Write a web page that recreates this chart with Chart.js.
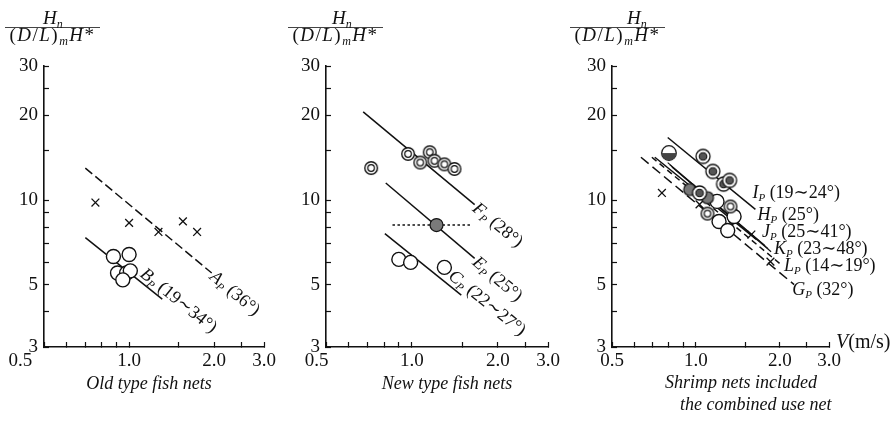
<!DOCTYPE html>
<html>
<head>
<meta charset="utf-8">
<script src="https://cdn.jsdelivr.net/npm/chart.js@4"></script>
<style>
  body { margin: 0; background: #fff; }
  #wrap { position: relative; width: 895px; height: 433px; overflow: hidden; background: #fff;
          font-family: "Liberation Serif", "DejaVu Serif", serif; color: #111; }
  canvas { position: absolute; top: 0; }
  .frac { position: absolute; top: 8px; font-size: 19px; white-space: nowrap; }
  .num { font-style: italic; line-height: 19px; height: 19px; border-bottom: 1px solid #444; }
  .den { line-height: 19px; margin-top: -3px; letter-spacing: 1.5px; text-align: center; }
  .frac sub { font-size: 12px; vertical-align: -4px; line-height: 0; font-style: italic; }
  .cap { position: absolute; font-style: italic; font-size: 18px; line-height: 18px; white-space: nowrap; }
</style>
</head>
<body>
<div id="wrap">
  <canvas id="c1" width="300" height="433" style="left:0px"></canvas>
  <canvas id="c2" width="300" height="433" style="left:282px"></canvas>
  <canvas id="c3" width="327" height="433" style="left:568px"></canvas>

  <div class="frac" style="left:5px;width:95px"><div class="num" style="padding-left:38px">H<sub>n</sub></div><div class="den">(<i>D</i>/<i>L</i>)<sub>m</sub><i>H</i>*</div></div>
  <div class="frac" style="left:288px;width:95px"><div class="num" style="padding-left:44px">H<sub>n</sub></div><div class="den">(<i>D</i>/<i>L</i>)<sub>m</sub><i>H</i>*</div></div>
  <div class="frac" style="left:570px;width:95px"><div class="num" style="padding-left:57px">H<sub>n</sub></div><div class="den">(<i>D</i>/<i>L</i>)<sub>m</sub><i>H</i>*</div></div>

  <div class="cap" style="left:49px;top:374px;width:200px;text-align:center">Old type fish nets</div>
  <div class="cap" style="left:347px;top:374px;width:200px;text-align:center">New type fish nets</div>
  <div class="cap" style="left:665px;top:373px">Shrimp nets included</div>
  <div class="cap" style="left:680px;top:395px">the combined use net</div>
</div>
<script>
// axes: V (m/s) on x, Hn/((D/L)m H*) on y, both log
const xTicks = [0.5, 0.6, 0.7, 0.8, 0.9, 1.0, 1.5, 2.0, 2.5, 3.0];
const xLabels = {1: '1.0', 2: '2.0', 3: '3.0'};
const yTicks = [3, 4, 5, 6, 7, 8, 9, 10, 15, 20, 25, 30];
const yLabels = {3: '3', 5: '5', 10: '10', 20: '20', 30: '30'};

// old type fish nets
const oldCrossV = [0.76, 1.0, 1.27, 1.55, 1.74];
const oldCrossH = [9.8, 8.3, 7.7, 8.4, 7.7];
const oldCircV = [0.88, 1.0, 0.91, 0.98, 1.01, 0.95];
const oldCircH = [6.3, 6.4, 5.5, 5.5, 5.6, 5.2];
const lineAV = [0.70, 1.96], lineAH = [13.0, 5.5];
const lineBV = [0.70, 1.31], lineBH = [7.35, 4.44];

// new type fish nets
const newDblV = [0.72, 0.97, 1.07, 1.155, 1.20, 1.30, 1.41];
const newDblH = [13.0, 14.6, 13.6, 14.8, 13.8, 13.4, 12.9];
const newFillV = [1.22], newFillH = [8.15];
const newBarV = [0.855, 1.62], newBarH = [8.15, 8.15];
const newCircV = [0.90, 0.99, 1.30];
const newCircH = [6.15, 6.0, 5.76];
const lineFV = [0.675, 1.66], lineFH = [20.6, 9.63];
const lineEV = [0.81, 1.66], lineEH = [11.5, 6.2];
const lineCV = [0.804, 1.49], lineCH = [7.6, 4.59];

// shrimp nets
const shHalfV = [0.80], shHalfH = [14.7];
const shDotV = [1.06, 1.15, 1.256, 1.32, 1.03];
const shDotH = [14.3, 12.65, 11.4, 11.75, 10.6];
const shGrayV = [0.95, 1.10], shGrayH = [10.9, 10.2];
const shDblV = [1.33, 1.10], shDblH = [9.49, 8.95];
const shOpenV = [1.19, 1.37, 1.21, 1.30];
const shOpenH = [9.89, 8.74, 8.39, 7.79];
const shCrossV = [0.755, 1.03, 1.58, 1.85];
const shCrossH = [10.6, 9.65, 7.54, 6.04];
const lineIV = [0.792, 1.634], lineIH = [16.7, 9.26];
const lineHV = [0.712, 1.65], lineHH = [14.2, 7.23];
const lineJV = [0.792, 1.77], lineJH = [13.6, 6.88];
const lineJKV = [0.806, 1.815], lineJKH = [13.35, 6.72];
const lineKV = [0.82, 1.86], lineKH = [13.1, 6.55];
const lineLV = [0.695, 2.02], lineLH = [14.2, 5.89];
const lineGV = [0.635, 2.25], lineGH = [14.2, 5.0];

const FONT = '"Liberation Serif", "DejaVu Serif", serif';
const INK = '#111';

// small marker pictures
function symbol(size, draw) {
  const c = document.createElement('canvas');
  c.width = c.height = size;
  const g = c.getContext('2d');
  g.translate(size / 2, size / 2);
  g.strokeStyle = INK;
  draw(g);
  return c;
}
function ring(g, r, fill) {
  g.beginPath(); g.arc(0, 0, r, 0, Math.PI * 2);
  if (fill) { g.fillStyle = fill; g.fill(); }
  g.stroke();
}
const dblCircle = symbol(16, g => { g.lineWidth = 1.4; ring(g, 6.3, '#fff'); g.lineWidth = 1.2; ring(g, 3.3); });
const dotCircle = symbol(18, g => { g.lineWidth = 1.3; ring(g, 7, '#fff'); g.lineWidth = 1.1; ring(g, 3.8, '#555'); });
const halfCircle = symbol(18, g => {
  g.lineWidth = 1.3; ring(g, 7.3, '#fff');
  g.beginPath(); g.arc(0, 0, 7.3, 0, Math.PI); g.closePath(); g.fillStyle = '#444'; g.fill();
});
const grayBlob = symbol(16, g => { g.lineWidth = 1.2; ring(g, 6, '#777'); });

const pts = (vs, hs) => vs.map((v, i) => ({x: v, y: hs[i]}));
const openStyle = {pointStyle: 'circle', pointRadius: 7, pointBackgroundColor: '#fff', pointBorderColor: INK, pointBorderWidth: 1.4};
const crossStyle = {pointStyle: 'crossRot', pointRadius: 5.5, pointBorderColor: INK, pointBorderWidth: 1.3};
const picStyle = pic => ({pointStyle: pic, pointRadius: 7});

function marks(label, vs, hs, style) {
  return Object.assign({label, data: pts(vs, hs), showLine: false}, style);
}
function line(label, vs, hs, dash, width) {
  return {label, data: pts(vs, hs), showLine: true, borderColor: INK, borderWidth: width || 1.5,
          borderDash: dash || [], pointRadius: 0, fill: false};
}

function richText(ctx, parts, x, y, size) {
  size = size || 18;
  for (const [txt, kind] of parts) {
    if (kind === 'sub') {
      ctx.font = 'italic 11px ' + FONT;
      ctx.fillText(txt, x, y + 3);
    } else {
      ctx.font = (kind === 'it' ? 'italic ' : '') + size + 'px ' + FONT;
      ctx.fillText(txt, x, y);
    }
    x += ctx.measureText(txt).width;
  }
}
const lab = (main, rest) => [[main, 'it'], ['P', 'sub'], [' ' + rest, 'rm']];

// labels next to the fitted lines, placed from the lines' own end points
const lineLabels = {
  id: 'lineLabels',
  afterDatasetsDraw(chart, args, opts) {
    const ctx = chart.ctx, xs = chart.scales.x, ys = chart.scales.y;
    ctx.save();
    ctx.fillStyle = INK;
    ctx.textBaseline = 'alphabetic';
    for (const lb of opts.items || []) {
      const d = chart.data.datasets.find(ds => ds.label === lb.line).data;
      const a = {x: xs.getPixelForValue(d[0].x), y: ys.getPixelForValue(d[0].y)};
      const b = {x: xs.getPixelForValue(d[d.length - 1].x), y: ys.getPixelForValue(d[d.length - 1].y)};
      ctx.save();
      if (lb.rot) {
        ctx.translate(a.x + (b.x - a.x) * lb.t, a.y + (b.y - a.y) * lb.t);
        ctx.rotate(Math.atan2(b.y - a.y, b.x - a.x));
        richText(ctx, lb.text, lb.gap || 0, (lb.off || 0) + 6);
      } else {
        richText(ctx, lb.text, b.x + lb.dx, b.y + lb.dy);
      }
      ctx.restore();
    }
    if (opts.unit) {
      const area = chart.chartArea;
      richText(ctx, [['V', 'it'], ['(m/s)', 'rm']], area.right + 7, area.bottom + 1, 20);
    }
    ctx.restore();
  }
};

function axes(zeroLabel) {
  const tickFont = {family: FONT, size: 19};
  return {
    x: {
      type: 'logarithmic', min: 0.5, max: 3.0,
      afterBuildTicks: s => { s.ticks = xTicks.map(v => ({value: v})); },
      afterFit: s => { s.height = 30; },
      ticks: {callback: v => v === 0.5 ? zeroLabel : (xLabels[v] || ''), autoSkip: false, maxRotation: 0,
              padding: 8, color: INK, font: tickFont},
      grid: {drawOnChartArea: false, tickLength: -5, tickWidth: 1.2, color: INK},
      border: {color: INK, width: 1.6}
    },
    y: {
      type: 'logarithmic', min: 3, max: 30,
      afterBuildTicks: s => { s.ticks = yTicks.map(v => ({value: v})); },
      afterFit: s => { s.width = 40; },
      ticks: {callback: v => yLabels[v] || '', autoSkip: false, padding: 11, color: INK, font: tickFont},
      grid: {drawOnChartArea: false, tickLength: -5, tickWidth: 1.2, color: INK},
      border: {color: INK, width: 1.6}
    }
  };
}

function panel(id, datasets, labels, padRight, zeroLabel, unit) {
  return new Chart(document.getElementById(id), {
    type: 'scatter',
    data: {datasets},
    options: {
      responsive: false, animation: false, devicePixelRatio: 1, events: [],
      layout: {padding: {left: 4, right: padRight, top: 66, bottom: 56}},
      scales: axes(zeroLabel),
      plugins: {legend: {display: false}, tooltip: {enabled: false},
                lineLabels: {items: labels, unit}}
    },
    plugins: [lineLabels]
  });
}

panel('c1', [
  marks('cross', oldCrossV, oldCrossH, crossStyle),
  marks('circle', oldCircV, oldCircH, openStyle),
  line('A', lineAV, lineAH, [9, 4]),
  line('B', lineBV, lineBH)
], [
  {line: 'A', rot: true, t: 1, gap: 1, off: 0, text: lab('A', '(36°)')},
  {line: 'B', rot: true, t: 0.67, gap: 0, off: -10, text: lab('B', '(19∼34°)')}
], 36, '0.5' + '\u2007'.repeat(5));

panel('c2', [
  marks('dbl', newDblV, newDblH, picStyle(dblCircle)),
  marks('fill', newFillV, newFillH, {pointStyle: 'circle', pointRadius: 6.5, pointBackgroundColor: '#7a7a7a',
                                     pointBorderColor: INK, pointBorderWidth: 1.2}),
  marks('circle', newCircV, newCircH, openStyle),
  line('bar', newBarV, newBarH, [2.5, 2.5], 1.6),
  line('F', lineFV, lineFH),
  line('E', lineEV, lineEH),
  line('C', lineCV, lineCH)
], [
  {line: 'F', rot: true, t: 1, gap: 1, off: 0, text: lab('F', '(28°)')},
  {line: 'E', rot: true, t: 1, gap: 1, off: 0, text: lab('E', '(25°)')},
  {line: 'C', rot: true, t: 0.78, gap: 0, off: -11, text: lab('C', '(22∼27°)')}
], 34, '0.5' + '\u2007'.repeat(2));

panel('c3', [
  marks('half', shHalfV, shHalfH, picStyle(halfCircle)),
  marks('dot', shDotV, shDotH, picStyle(dotCircle)),
  marks('gray', shGrayV, shGrayH, picStyle(grayBlob)),
  marks('dbl', shDblV, shDblH, picStyle(dblCircle)),
  marks('open', shOpenV, shOpenH, openStyle),
  marks('cross', shCrossV, shCrossH, crossStyle),
  line('I', lineIV, lineIH),
  line('H', lineHV, lineHH),
  line('J', lineJV, lineJH, [], 1.1),
  line('JK', lineJKV, lineJKH, [], 1.1),
  line('K', lineKV, lineKH, [], 1.1),
  line('L', lineLV, lineLH, [6, 4]),
  line('G', lineGV, lineGH, [10, 5])
], [
  {line: 'I', dx: -3, dy: -11, text: lab('I', '(19∼24°)')},
  {line: 'H', dx: 1, dy: -20, text: lab('H', '(25°)')},
  {line: 'J', dx: -3, dy: -9, text: lab('J', '(25∼41°)')},
  {line: 'K', dx: 3, dy: 2, text: lab('K', '(23∼48°)')},
  {line: 'L', dx: 3, dy: 6, text: lab('L', '(14∼19°)')},
  {line: 'G', dx: -2, dy: 10, text: lab('G', '(32°)')}
], 66, '0.5', true);
</script>
</body>
</html>
